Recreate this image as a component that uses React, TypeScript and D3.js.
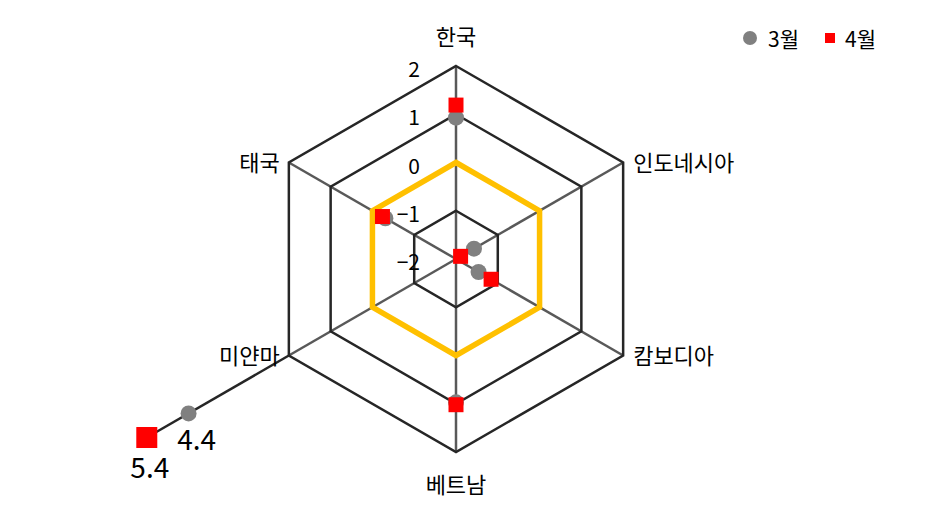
import React from "react";
import * as d3 from "d3";

const categories = ["한국", "인도네시아", "캄보디아", "베트남", "미얀마", "태국"];
const seriesNames = ["3월", "4월"];
const march = [0.93, -1.57, -1.46, 0.97, 4.4, -0.31];
const april = [1.19, -1.89, -1.16, 1.02, 5.4, -0.24];
const ringValues = [-1, 0, 1, 2];
const tickLabels = ["2", "1", "0", "−1", "−2"];
const tickValues = [2, 1, 0, -1, -2];

const W = 938;
const H = 523;
const cx = 456;
const cy = 259;
const R = 193;
const FONT = "'Noto Sans CJK KR', 'Noto Sans', sans-serif";

export default function App() {
  const r = d3.scaleLinear().domain([-2, 2]).range([0, R]);
  const angle = d3
    .scalePoint<string>()
    .domain(categories)
    .range([0, (2 * Math.PI * (categories.length - 1)) / categories.length]);
  const pt = (cat: string, v: number): [number, number] => {
    const a = angle(cat) as number;
    const rr = r(v);
    return [cx + rr * Math.sin(a), cy - rr * Math.cos(a)];
  };
  const ring = d3
    .lineRadial<string>()
    .angle((c) => angle(c) as number)
    .curve(d3.curveLinearClosed);

  const maxVal = d3.max([...march, ...april]) as number;
  const maxIdx = april.indexOf(maxVal) >= 0 ? april.indexOf(maxVal) : march.indexOf(maxVal);

  const squarePath = (size: number) => d3.symbol().type(d3.symbolSquare).size(size * size)() as string;

  return (
    <svg
      width={W}
      height={H}
      style={{ position: "absolute", left: 0, top: 0, background: "#fff" }}
      fontFamily={FONT}
    >
      {/* spokes */}
      {categories.map((c) => {
        const [x, y] = pt(c, 2);
        return <line key={"s" + c} x1={cx} y1={cy} x2={x} y2={y} stroke="#595959" strokeWidth={2.5} />;
      })}
      {/* rings */}
      {ringValues.map((v) => (
        <path
          key={"r" + v}
          d={ring.radius(() => r(v))(categories) as string}
          transform={`translate(${cx},${cy})`}
          fill="none"
          stroke={v === 0 ? "#FFC000" : "#262626"}
          strokeWidth={v === 0 ? 5.5 : 2.5}
          strokeLinejoin="miter"
        />
      ))}
      {/* overflow extension */}
      {maxVal > 2 && (
        <line
          x1={pt(categories[maxIdx], 2)[0]}
          y1={pt(categories[maxIdx], 2)[1]}
          x2={pt(categories[maxIdx], maxVal)[0]}
          y2={pt(categories[maxIdx], maxVal)[1]}
          stroke="#262626"
          strokeWidth={2.5}
        />
      )}
      {/* tick labels */}
      {tickValues.map((v, i) => (
        <text
          key={"t" + v}
          x={cx - 36}
          y={cy - r(v) + 2}
          textAnchor="end"
          dominantBaseline="central"
          fontSize={21}
          fill="#000"
        >
          {tickLabels[i]}
        </text>
      ))}
      {/* category labels */}
      {categories.map((c) => {
        const a = angle(c) as number;
        const s = Math.sin(a);
        const [vx, vy] = pt(c, 2);
        let x = vx;
        let y = vy;
        let anchor: "start" | "middle" | "end" = "middle";
        if (Math.abs(s) < 0.01) {
          y = cy - (R + 31) * Math.cos(a);
        } else if (s > 0) {
          x = vx + 10;
          y = vy - 2;
          anchor = "start";
        } else {
          x = vx - 9;
          y = vy - 2;
          anchor = "end";
        }
        return (
          <text key={"l" + c} x={x} y={y} textAnchor={anchor} dominantBaseline="central" fontSize={22} fill="#000">
            {c}
          </text>
        );
      })}
      {/* March markers */}
      {categories.map((c, i) => {
        const [x, y] = pt(c, march[i]);
        return <circle key={"m" + c} cx={x} cy={y} r={8} fill="#808080" />;
      })}
      {/* April markers */}
      {categories.map((c, i) => {
        const [x, y] = pt(c, april[i]);
        const big = april[i] > 2;
        return <path key={"a" + c} d={squarePath(big ? 21 : 15)} transform={`translate(${x},${y})`} fill="#FF0000" />;
      })}
      {/* outlier value labels */}
      {categories.map((c, i) => {
        const out: React.ReactNode[] = [];
        if (march[i] > 2) {
          const [x, y] = pt(c, march[i]);
          out.push(
            <text key={"ml" + c} x={x + 8} y={y + 25} textAnchor="middle" dominantBaseline="central" fontSize={28} fill="#000">
              {d3.format(".1f")(march[i])}
            </text>
          );
        }
        if (april[i] > 2) {
          const [x, y] = pt(c, april[i]);
          out.push(
            <text key={"al" + c} x={x + 3} y={y + 28} textAnchor="middle" dominantBaseline="central" fontSize={28} fill="#000">
              {d3.format(".1f")(april[i])}
            </text>
          );
        }
        return out;
      })}
      {/* legend */}
      <g>
        <circle cx={750} cy={38} r={7} fill="#808080" />
        <text x={768} y={38} dominantBaseline="central" fontSize={21} fill="#000">
          {seriesNames[0]}
        </text>
        <path d={squarePath(10)} transform="translate(830,38)" fill="#FF0000" />
        <text x={845} y={38} dominantBaseline="central" fontSize={21} fill="#000">
          {seriesNames[1]}
        </text>
      </g>
    </svg>
  );
}
